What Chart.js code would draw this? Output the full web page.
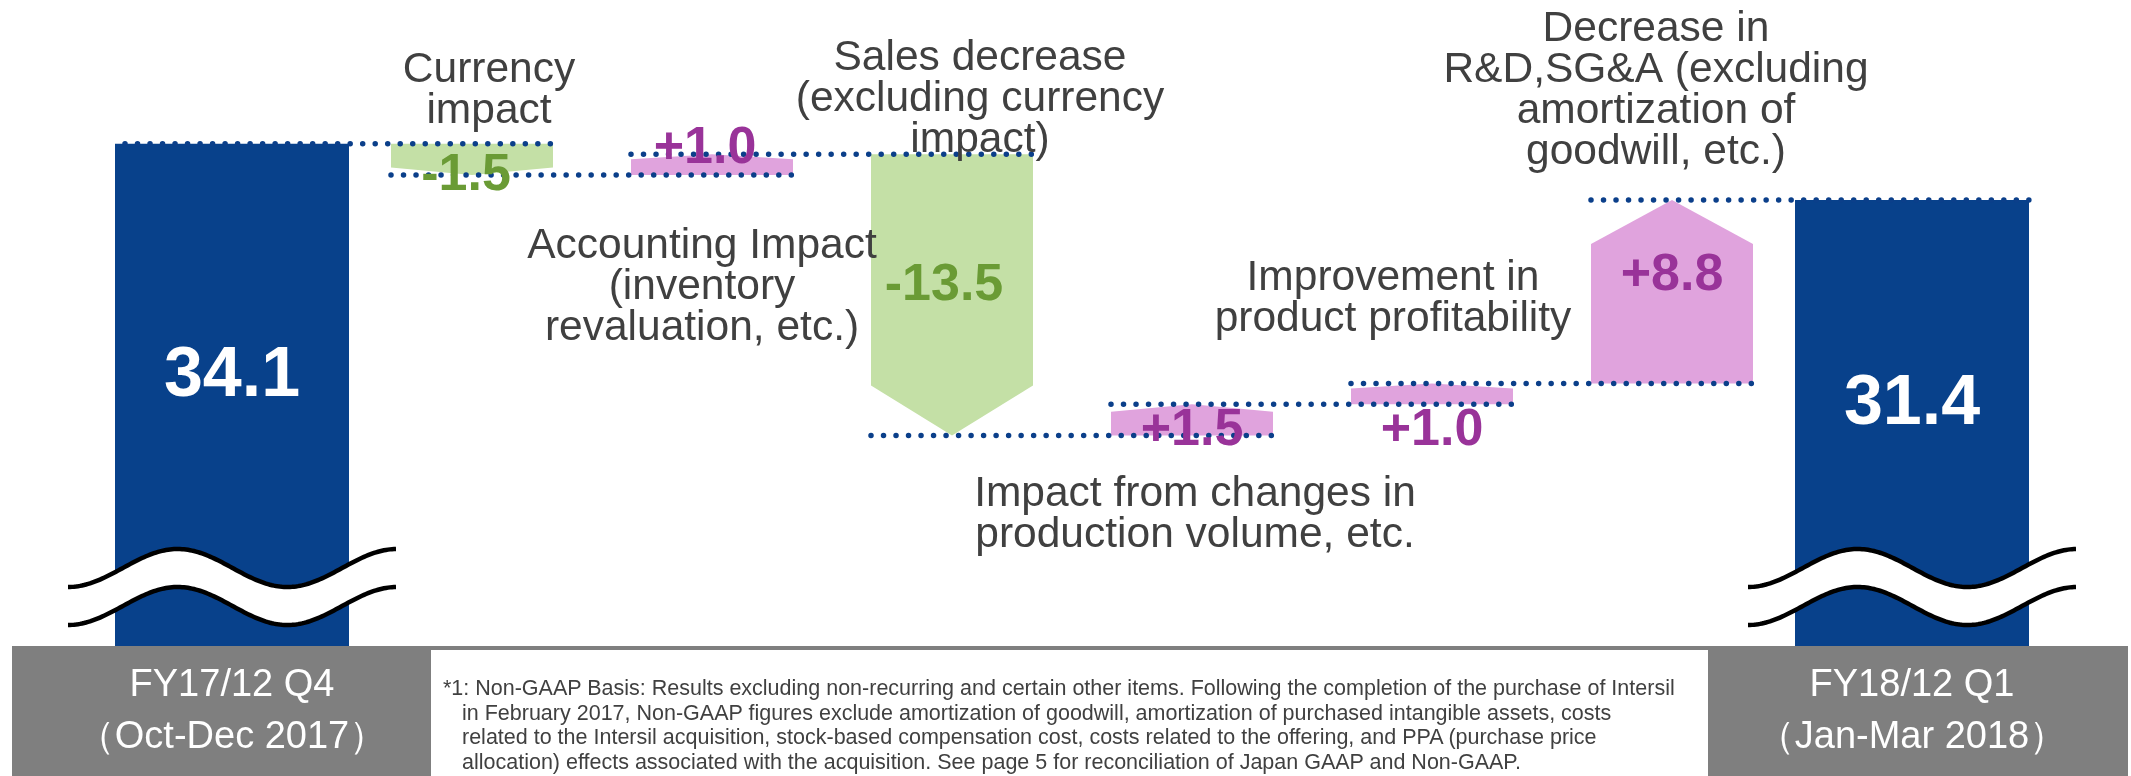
<!DOCTYPE html>
<html>
<head>
<meta charset="utf-8">
<script src="https://cdn.jsdelivr.net/npm/chart.js@4.4.1/dist/chart.umd.min.js"></script>
<style>
html,body{margin:0;padding:0;background:#ffffff;}
#wrap{position:relative;width:2131px;height:776px;overflow:hidden;}
#note{position:absolute;left:443px;top:676px;font-family:"Liberation Sans",Arial,sans-serif;font-size:21.5px;line-height:24.5px;color:#404040;white-space:nowrap;}
#note div{padding-left:19px;}
#note div.first{padding-left:0;}
</style>
</head>
<body>
<div id="wrap">
<canvas id="c"></canvas>
<div id="note">
<div class="first">*1: Non-GAAP Basis: Results excluding non-recurring and certain other items. Following the completion of the purchase of Intersil</div>
<div>in February 2017, Non-GAAP figures exclude amortization of goodwill, amortization of purchased intangible assets, costs</div>
<div>related to the Intersil acquisition, stock-based compensation cost, costs related to the offering, and PPA (purchase price</div>
<div>allocation) effects associated with the acquisition. See page 5 for reconciliation of Japan GAAP and Non-GAAP.</div>
</div>
</div>
<script>
// ---------------- data ----------------
const categories = [
  'FY17/12 Q4',
  'Currency impact',
  'Accounting Impact (inventory revaluation, etc.)',
  'Sales decrease (excluding currency impact)',
  'Impact from changes in production volume, etc.',
  'Improvement in product profitability',
  'Decrease in R&D,SG&A (excluding amortization of goodwill, etc.)',
  'FY18/12 Q1'
];
const tickLabels = [
  ['FY17/12 Q4', '（Oct-Dec 2017）'],
  '', '', '', '', '', '',
  ['FY18/12 Q1', '（Jan-Mar 2018）']
];
const startValue = 34.1;
const endValue = 31.4;
const changeValues = [-1.5, 1.0, -13.5, 1.5, 1.0, 8.8];
const stepLabelLines = [
  ['Currency', 'impact'],
  ['Accounting Impact', '(inventory', 'revaluation, etc.)'],
  ['Sales decrease', '(excluding currency', 'impact)'],
  ['Impact from changes in', 'production volume, etc.'],
  ['Improvement in', 'product profitability'],
  ['Decrease in', 'R&D,SG&A (excluding', 'amortization of', 'goodwill, etc.)']
];

// ---------------- layout / style ----------------
const AXIS_MIN = 10, AXIS_MAX = 41;
const FONT = '"Liberation Sans", Arial, sans-serif';
const NAVY = '#08418b';
const GREEN_FILL = '#c4e0a6', GREEN_TEXT = '#6a9b35';
const PINK_FILL = '#e0a3dd', PURPLE_TEXT = '#993399';
const TEXT_GRAY = '#404040';
// value label placement per step: fraction along shape (0 top, 1 bottom) + pixel offset, x offset
const valuePlace = [
  {f: 1, dy: 15, dx: -6},
  {f: 0, dy: 9, dx: -7},
  {f: 0.5, dy: 5, dx: -8},
  {f: 1, dy: 9, dx: 0},
  {f: 1, dy: 41, dx: 0},
  {f: 0.5, dy: -2, dx: 0}
];
// annotation text placement: centre x, first baseline
const notePlace = [
  {x: 489, y: 82},
  {x: 702, y: 258},
  {x: 980, y: 70},
  {x: 1195, y: 506},
  {x: 1393, y: 290},
  {x: 1656, y: 41}
];
const NOTE_LINE = 41;

// ---------------- derived series ----------------
const levels = [startValue];
changeValues.forEach(c => levels.push(Math.round((levels[levels.length - 1] + c) * 10) / 10));
const lastIdx = categories.length - 1;
const totalData = categories.map((_, i) => i === 0 ? [AXIS_MIN, startValue] : (i === lastIdx ? [AXIS_MIN, endValue] : null));
const changeData = categories.map((_, i) => (i > 0 && i < lastIdx) ? [levels[i - 1], levels[i]] : null);
const fmt = v => (v > 0 ? '+' : '') + v.toFixed(1);

const decorPlugin = {
  id: 'decor',
  beforeDraw(chart) {
    const ctx = chart.ctx;
    const bottom = chart.chartArea.bottom;
    ctx.save();
    ctx.fillStyle = '#7f7f7f';
    ctx.fillRect(12, bottom, 2116, chart.height - bottom);
    ctx.fillStyle = '#ffffff';
    ctx.fillRect(431, bottom + 4, 1277, chart.height - bottom - 4);
    ctx.restore();
  },
  afterDatasetsDraw(chart) {
    const ctx = chart.ctx;
    const ys = chart.scales.y;
    const totMeta = chart.getDatasetMeta(0);
    const chgMeta = chart.getDatasetMeta(1);
    const bottom = chart.chartArea.bottom;
    ctx.save();

    // change shapes (arrow-like pentagons)
    for (let i = 1; i < lastIdx; i++) {
      const el = chgMeta.data[i];
      const [s, e] = changeData[i];
      const y0 = ys.getPixelForValue(s), y1 = ys.getPixelForValue(e);
      const h = Math.abs(y1 - y0);
      const head = Math.min(h * 0.24, 50);
      const dir = y1 > y0 ? 1 : -1;
      const l = el.x - el.width / 2, r = el.x + el.width / 2;
      ctx.fillStyle = e < s ? GREEN_FILL : PINK_FILL;
      ctx.beginPath();
      ctx.moveTo(l, y0);
      ctx.lineTo(r, y0);
      ctx.lineTo(r, y1 - dir * head);
      ctx.lineTo(el.x, y1);
      ctx.lineTo(l, y1 - dir * head);
      ctx.closePath();
      ctx.fill();
    }

    // dotted connectors
    ctx.strokeStyle = '#0b3f8a';
    ctx.lineWidth = 5.5;
    ctx.lineCap = 'round';
    ctx.setLineDash([0.01, 12.5]);
    for (let i = 0; i < lastIdx; i++) {
      const a = i === 0 ? totMeta.data[0] : chgMeta.data[i];
      const b = (i + 1) === lastIdx ? totMeta.data[lastIdx] : chgMeta.data[i + 1];
      const y = ys.getPixelForValue(levels[i]);
      const xa = a.x - a.width / 2 + (i === 0 ? 10 : 0);
      const xb = b.x + b.width / 2;
      ctx.beginPath();
      ctx.moveTo(xa, y);
      ctx.lineTo(xb, y);
      ctx.stroke();
    }
    ctx.setLineDash([]);

    // axis break waves on total bars
    [0, lastIdx].forEach(i => {
      const el = totMeta.data[i];
      const xa = el.x - el.width / 2 - 47, xb = el.x + el.width / 2 + 48;
      const L = (xb - xa) / 3, A = 19;
      const c1 = bottom - 78, c2 = bottom - 40;
      const f = (x, c) => c + A * Math.cos(Math.PI * (x - xa) / L);
      ctx.beginPath();
      for (let x = xa; x <= xb; x += 2) ctx.lineTo(x, f(x, c1));
      for (let x = xb; x >= xa; x -= 2) ctx.lineTo(x, f(x, c2));
      ctx.closePath();
      ctx.fillStyle = '#ffffff';
      ctx.fill();
      ctx.strokeStyle = '#000000';
      ctx.lineWidth = 4.5;
      ctx.lineCap = 'butt';
      [c1, c2].forEach(c => {
        ctx.beginPath();
        for (let x = xa; x <= xb; x += 2) ctx.lineTo(x, f(x, c));
        ctx.stroke();
      });
    });

    // total labels
    ctx.textAlign = 'center';
    ctx.textBaseline = 'alphabetic';
    ctx.fillStyle = '#ffffff';
    ctx.font = 'bold 70px ' + FONT;
    [[0, startValue], [lastIdx, endValue]].forEach(([i, v]) => {
      const el = totMeta.data[i];
      const waveTop = bottom - 98;
      ctx.fillText(v.toFixed(1), el.x, (el.y + waveTop) / 2 + 50);
    });

    // change labels
    ctx.font = 'bold 52px ' + FONT;
    for (let k = 0; k < changeValues.length; k++) {
      const i = k + 1;
      const el = chgMeta.data[i];
      const [s, e] = changeData[i];
      const y0 = ys.getPixelForValue(s), y1 = ys.getPixelForValue(e);
      const top = Math.min(y0, y1), bot = Math.max(y0, y1);
      const p = valuePlace[k];
      ctx.fillStyle = changeValues[k] < 0 ? GREEN_TEXT : PURPLE_TEXT;
      ctx.fillText(fmt(changeValues[k]), el.x + p.dx, top + p.f * (bot - top) + p.dy);
    }

    // step annotations
    ctx.font = '42.5px ' + FONT;
    ctx.fillStyle = TEXT_GRAY;
    stepLabelLines.forEach((lines, k) => {
      const p = notePlace[k];
      lines.forEach((t, j) => ctx.fillText(t, p.x, p.y + j * NOTE_LINE));
    });
    ctx.restore();
  }
};

new Chart(document.getElementById('c'), {
  type: 'bar',
  data: {
    labels: categories,
    datasets: [
      {
        label: 'Operating income',
        data: totalData,
        backgroundColor: NAVY,
        borderWidth: 0,
        grouped: false,
        barPercentage: 0.975,
        categoryPercentage: 1
      },
      {
        label: 'Change',
        data: changeData,
        backgroundColor: 'rgba(0,0,0,0)',
        borderWidth: 0,
        grouped: false,
        barPercentage: 0.675,
        categoryPercentage: 1
      }
    ]
  },
  options: {
    responsive: true,
    maintainAspectRatio: false,
    animation: false,
    events: [],
    layout: {padding: {left: 112, right: 99, top: 0, bottom: 0}},
    plugins: {legend: {display: false}, tooltip: {enabled: false}, title: {display: false}},
    scales: {
      x: {
        grid: {display: false, drawTicks: false},
        border: {display: false},
        afterFit: s => { s.height = 130; },
        ticks: {
          color: '#ffffff',
          autoSkip: false,
          maxRotation: 0,
          padding: 14,
          font: {family: FONT, size: 38, lineHeight: 1.36},
          callback: (v, i) => tickLabels[i]
        }
      },
      y: {display: false, min: AXIS_MIN, max: AXIS_MAX}
    }
  },
  plugins: [decorPlugin]
});
</script>
</body>
</html>
